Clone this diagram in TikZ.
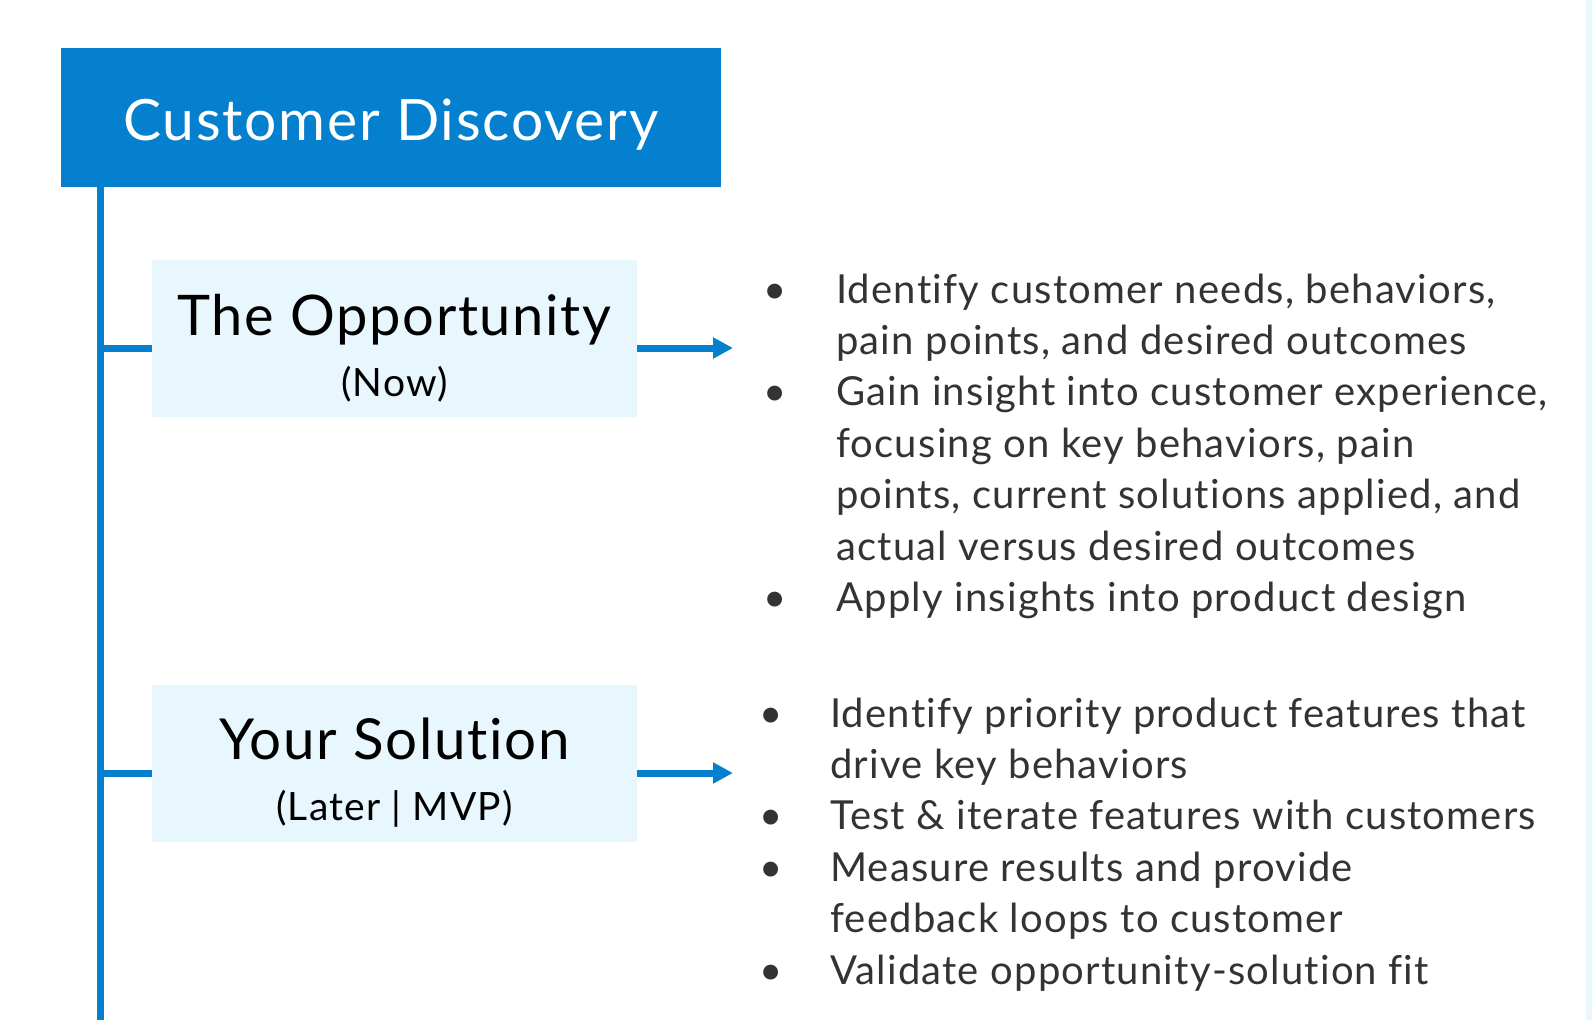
\documentclass[tikz,border=0pt]{standalone}
\usepackage{fontspec}
\setmainfont{Lato}[LetterSpace=3, Ligatures=NoCommon]
\usetikzlibrary{arrows.meta}
\definecolor{cdblue}{HTML}{0480CE}
\definecolor{cdpale}{HTML}{E8F6FD}
\definecolor{cdink}{HTML}{333333}
\newcommand{\bulA}{\hspace*{30pt}\textbullet}
\newcommand{\bulB}{\hspace*{26pt}\textbullet}

\begin{document}
\begin{tikzpicture}[x=1pt, y=-1pt,
    stage/.style={fill=cdpale, minimum width=485pt, minimum height=157pt,
      align=center, inner sep=0pt},
    branch/.style={draw=cdblue, line width=7pt},
    flow/.style={branch, -{Triangle[length=20pt, width=20pt]}},
    items/.style={anchor=base west, inner sep=0pt, text=cdink,
      font=\fontsize{40}{51.4}\selectfont}]
  \useasboundingbox (0,0) rectangle (1592,1020);
  \fill[cdpale] (1586,0) rectangle (1592,1020);

  % header and spine
  \node[fill=cdblue, text=white, minimum width=660pt, minimum height=139pt,
    inner sep=0pt, text height=46pt, text depth=0pt,
    font=\fontsize{57}{60}\selectfont] (header) at (391,117.5)
    {Customer Discovery};
  \coordinate (spinetop) at (100.5,187);
  \coordinate (spinebot) at (100.5,1020);
  \draw[branch] (spinetop) -- (spinebot);

  % the two stages
  \node[stage] (opp) at (394.5,338.5)
    {\rule[-12pt]{0pt}{72pt}{\fontsize{56}{62}\selectfont The Opportunity}\\[18pt]
     {\fontsize{39}{40}\selectfont (Now)}};
  \node[stage] (sol) at (394.5,763.5)
    {\rule[-12pt]{0pt}{72pt}{\fontsize{56.5}{62}\selectfont Your Solution}\\[18pt]
     {\fontsize{39}{40}\selectfont (Later | MVP)}};
  \draw[branch] ([yshift=-9.5pt]spinetop |- opp.west) -- ([yshift=-9.5pt]opp.west);
  \draw[branch] ([yshift=-9.5pt]spinetop |- sol.west) -- ([yshift=-9.5pt]sol.west);

  \coordinate (opptip) at (733,348);
  \coordinate (soltip) at (733,773);
  \draw[flow] ([yshift=-9.5pt]opp.east) -- (opptip);
  \draw[flow] ([yshift=-9.5pt]sol.east) -- (soltip);

  % bullet lists
  \node[items] (opplist) at (733,303) {\begin{tabular}[t]{@{}p{103pt}@{}l@{}}
    \bulA & Identify customer needs, behaviors,\\
          & pain points, and desired outcomes\\
    \bulA & Gain insight into customer experience,\\
          & focusing on key behaviors, pain\\
          & points, current solutions applied, and\\
          & actual versus desired outcomes\\
    \bulA & Apply insights into product design
  \end{tabular}};
  \node[items] (sollist) at (733,727) {\begin{tabular}[t]{@{}p{97pt}@{}l@{}}
    \bulB & Identify priority product features that\\
          & drive key behaviors\\
    \bulB & Test \& iterate features with customers\\
    \bulB & Measure results and provide\\
          & feedback loops to customer\\
    \bulB & Validate opportunity-solution fit
  \end{tabular}};
\end{tikzpicture}
\end{document}
